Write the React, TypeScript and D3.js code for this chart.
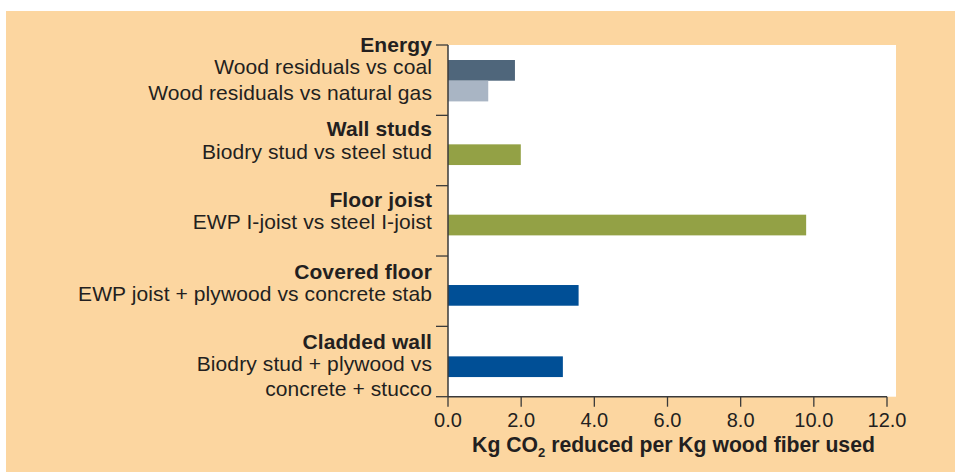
import React from "react";
import * as d3 from "d3";

const categories = ["Energy", "Wall studs", "Floor joist", "Covered floor", "Cladded wall"];
const categoryLines = [
  ["Wood residuals vs coal", "Wood residuals vs natural gas"],
  ["Biodry stud vs steel stud"],
  ["EWP I-joist vs steel I-joist"],
  ["EWP joist + plywood vs concrete stab"],
  ["Biodry stud + plywood vs", "concrete + stucco"],
];
const barCategory = ["Energy", "Energy", "Wall studs", "Floor joist", "Covered floor", "Cladded wall"];
const barLabel = [
  "Wood residuals vs coal",
  "Wood residuals vs natural gas",
  "Biodry stud vs steel stud",
  "EWP I-joist vs steel I-joist",
  "EWP joist + plywood vs concrete stab",
  "Biodry stud + plywood vs concrete + stucco",
];
const barValue = [1.83, 1.1, 1.99, 9.79, 3.57, 3.14];
const xTicks = [0, 2, 4, 6, 8, 10, 12];

// styles / layout
const barColor = ["#4f667b", "#a9b5c4", "#93a145", "#93a145", "#004f96", "#004f96"];
const barOffset = [15, 35.7, 29, 29, 29, 30]; // offset within band
const lineOffsets = [
  [7.3, 29, 55],
  [20.7, 43.4],
  [21.3, 43.3],
  [23.2, 45.2],
  [23.0, 45.0, 69.5],
];

const W = 955, H = 472;
const TEXT = "#231f20";
const FONT = "'Liberation Sans', Arial, Helvetica, sans-serif";

export default function App() {
  const x = d3.scaleLinear().domain([0, 12]).range([448, 887]);
  const y = d3.scaleBand<string>().domain(categories).range([45, 396.7]).paddingInner(0).paddingOuter(0);
  const barH = 20.7;
  const axisY = 396.7;
  const labelX = 432;

  return (
    <svg width={W} height={H} style={{ position: "absolute", left: 0, top: 0 }} fontFamily={FONT}>
      <rect x={0} y={0} width={W} height={H} fill="#ffffff" />
      <rect x={6} y={11} width={W - 6} height={H - 11} fill="#fcd6a0" />
      <rect x={x(0)} y={45} width={896 - x(0)} height={axisY - 45} fill="#ffffff" />

      {barValue.map((v, i) => (
        <rect
          key={barLabel[i]}
          x={x(0)}
          y={(y(barCategory[i]) as number) + barOffset[i]}
          width={x(v) - x(0)}
          height={barH}
          fill={barColor[i]}
        />
      ))}

      {/* y axis */}
      <line x1={x(0)} x2={x(0)} y1={45} y2={axisY} stroke="#3a3a3a" strokeWidth={1.5} />
      {categories.map((c) => (
        <line key={"t" + c} x1={x(0) - 12} x2={x(0)} y1={y(c)} y2={y(c)} stroke="#3a3a3a" strokeWidth={1.3} />
      ))}
      <line x1={x(0) - 12} x2={x(0)} y1={axisY} y2={axisY} stroke="#3a3a3a" strokeWidth={1.3} />

      {categories.map((c, ci) => {
        const top = y(c) as number;
        const offs = lineOffsets[ci];
        return (
          <g key={"l" + c} fill={TEXT} textAnchor="end" fontSize={21} letterSpacing={0.1}>
            <text x={labelX} y={top + offs[0]} fontWeight="bold">{c}</text>
            {categoryLines[ci].map((ln, li) => (
              <text key={ln} x={labelX} y={top + offs[li + 1]}>{ln}</text>
            ))}
          </g>
        );
      })}

      {/* x axis */}
      <line x1={x(0)} x2={x(12)} y1={axisY} y2={axisY} stroke="#3a3a3a" strokeWidth={1.5} />
      {xTicks.map((t) => (
        <g key={"x" + t}>
          <line x1={x(t)} x2={x(t)} y1={axisY} y2={axisY + 10} stroke="#3a3a3a" strokeWidth={1.3} />
          <text x={x(t)} y={426.5} textAnchor="middle" fontSize={20} fill={TEXT}>
            {t.toFixed(1)}
          </text>
        </g>
      ))}
      <text x={673.5} y={451.7} textAnchor="middle" fontSize={21.2} fontWeight="bold" fill={TEXT}>
        Kg CO<tspan fontSize={13} dy={5}>2</tspan>
        <tspan dy={-5}> reduced per Kg wood fiber used</tspan>
      </text>
    </svg>
  );
}
